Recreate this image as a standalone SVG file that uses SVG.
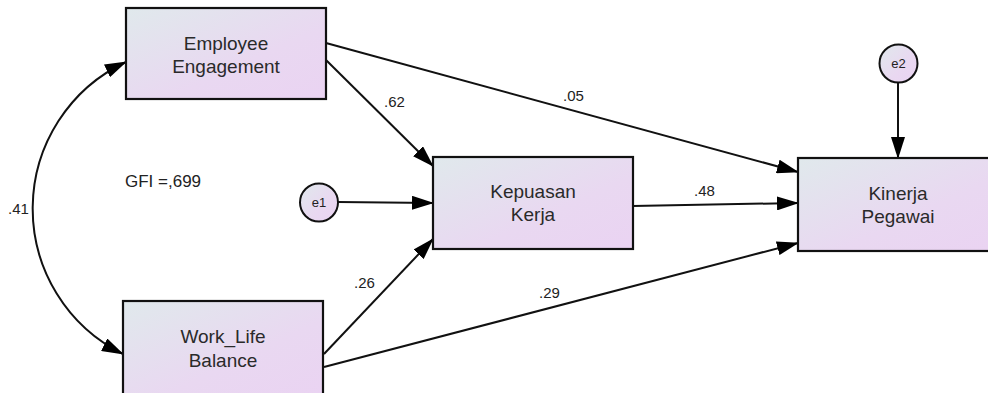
<svg xmlns="http://www.w3.org/2000/svg" width="988" height="393" viewBox="0 0 988 393">
<defs>
<linearGradient id="boxfill" x1="0" y1="0" x2="1" y2="1">
<stop offset="0" stop-color="#e0e9ec"/>
<stop offset="0.6" stop-color="#e9d8f1"/>
<stop offset="1" stop-color="#ead3f2"/>
</linearGradient>
<marker id="arr" viewBox="0 0 22 14" refX="21" refY="7" markerWidth="22" markerHeight="14" markerUnits="userSpaceOnUse" orient="auto-start-reverse">
<path d="M0,0 L22,7 L0,14 z" fill="#000"/>
</marker>
<style>
.box{fill:url(#boxfill);stroke:#111;stroke-width:2.2}
.circ{fill:url(#boxfill);stroke:#111;stroke-width:2}
.lbl{font-family:"Liberation Sans",Arial,sans-serif;font-size:19px;fill:#2a2a2a;text-anchor:middle}
.num{font-family:"Liberation Sans",Arial,sans-serif;font-size:15px;fill:#222}
.err{font-family:"Liberation Sans",Arial,sans-serif;font-size:13px;fill:#222;text-anchor:middle}
.edge{fill:none;stroke:#111;stroke-width:2;marker-end:url(#arr)}
</style>
</defs>
<rect width="988" height="393" fill="#fff"/>
<g id="connectors">
<path class="edge" d="M126,62 A162,162 0 0 0 123,354" style="marker-start:url(#arr)"/>
<line class="edge" x1="326" y1="60" x2="433" y2="166"/>
<line class="edge" x1="326" y1="43" x2="798" y2="172"/>
<line class="edge" x1="338" y1="202" x2="433" y2="203"/>
<line class="edge" x1="633" y1="206" x2="798" y2="203"/>
<line class="edge" x1="324" y1="354" x2="433" y2="239"/>
<line class="edge" x1="324" y1="367" x2="798" y2="243"/>
<line class="edge" x1="898" y1="82" x2="898" y2="158"/>
<text class="num" x="8" y="214">.41</text>
<text class="num" x="384" y="107">.62</text>
<text class="num" x="563" y="101">.05</text>
<text class="num" x="694" y="196">.48</text>
<text class="num" x="354" y="288">.26</text>
<text class="num" x="539" y="298">.29</text>
</g>
<text x="125" y="187" font-family="'Liberation Sans',Arial,sans-serif" font-size="17" fill="#222">GFI =,699</text>
<g id="employee-engagement">
<rect class="box" x="126" y="8" width="200" height="91"/>
<text class="lbl" x="226" y="50">Employee</text>
<text class="lbl" x="226" y="73">Engagement</text>
</g>
<g id="work-life-balance">
<rect class="box" x="123" y="301" width="200" height="95"/>
<text class="lbl" x="223" y="343">Work_Life</text>
<text class="lbl" x="223" y="367">Balance</text>
</g>
<g id="kepuasan-kerja">
<rect class="box" x="433" y="157" width="200" height="92"/>
<text class="lbl" x="533" y="198">Kepuasan</text>
<text class="lbl" x="533" y="221">Kerja</text>
</g>
<g id="kinerja-pegawai">
<rect class="box" x="798" y="158" width="200" height="93"/>
<text class="lbl" x="898" y="200">Kinerja</text>
<text class="lbl" x="898" y="223">Pegawai</text>
</g>
<g id="e1">
<circle class="circ" cx="319" cy="202.5" r="19"/>
<text class="err" x="319" y="207">e1</text>
</g>
<g id="e2">
<circle class="circ" cx="898.5" cy="63.5" r="19"/>
<text class="err" x="898.5" y="68">e2</text>
</g>
</svg>
